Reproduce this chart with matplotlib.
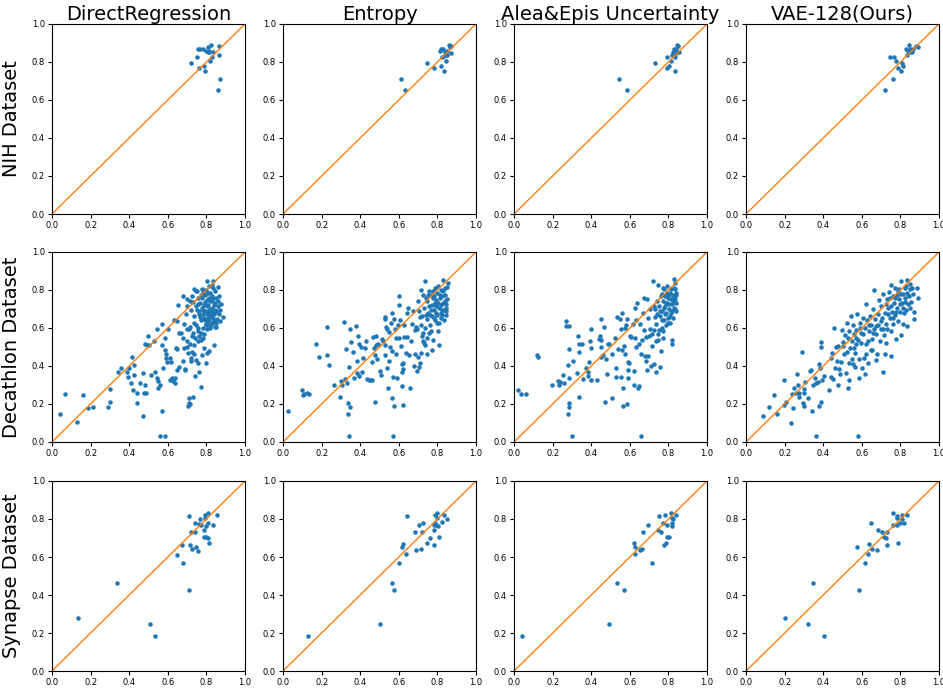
import numpy as np
import matplotlib
matplotlib.use("Agg")
import matplotlib.pyplot as plt

methods = ["DirectRegression", "Entropy", "Alea&Epis Uncertainty", "VAE-128(Ours)"]
datasets = ["NIH Dataset", "Decathlon Dataset", "Synapse Dataset"]
ticks = [0.0, 0.2, 0.4, 0.6, 0.8, 1.0]

# ---- NIH ----
nih_dr = [(0.719, 0.797), (0.749, 0.828), (0.754, 0.869), (0.766, 0.869), (0.782, 0.870),
          (0.764, 0.767), (0.789, 0.779), (0.795, 0.753), (0.799, 0.860), (0.809, 0.881),
          (0.811, 0.851), (0.815, 0.856), (0.825, 0.890), (0.834, 0.855), (0.828, 0.825),
          (0.818, 0.806), (0.863, 0.886), (0.865, 0.835), (0.868, 0.711), (0.860, 0.653),
          (0.806, 0.851)]
nih_ent = [(0.610, 0.711), (0.633, 0.653), (0.747, 0.797), (0.783, 0.767), (0.818, 0.779),
           (0.834, 0.753), (0.842, 0.807), (0.811, 0.860), (0.820, 0.869), (0.828, 0.870),
           (0.825, 0.825), (0.835, 0.834), (0.841, 0.855), (0.852, 0.860), (0.851, 0.835),
           (0.861, 0.890), (0.865, 0.881), (0.872, 0.886), (0.870, 0.849)]
nih_ae = [(0.545, 0.711), (0.583, 0.653), (0.728, 0.797), (0.791, 0.825), (0.792, 0.767),
          (0.804, 0.779), (0.813, 0.807), (0.817, 0.835), (0.822, 0.855), (0.827, 0.867),
          (0.832, 0.860), (0.834, 0.753), (0.836, 0.828), (0.839, 0.869), (0.844, 0.890),
          (0.849, 0.884), (0.841, 0.849), (0.853, 0.851)]
nih_vae = [(0.718, 0.653), (0.746, 0.825), (0.761, 0.711), (0.767, 0.828), (0.779, 0.807),
           (0.787, 0.767), (0.805, 0.753), (0.807, 0.797), (0.814, 0.779), (0.831, 0.869),
           (0.833, 0.835), (0.838, 0.860), (0.845, 0.890), (0.847, 0.855), (0.852, 0.870),
           (0.859, 0.851), (0.866, 0.869), (0.883, 0.886), (0.889, 0.881)]

# ---- Decathlon ----
dec_dr = [(0.040, 0.145), (0.069, 0.254), (0.130, 0.103), (0.161, 0.245), (0.187, 0.177),
          (0.213, 0.186), (0.289, 0.186), (0.300, 0.212), (0.302, 0.278), (0.343, 0.366),
          (0.357, 0.392), (0.388, 0.366), (0.393, 0.340), (0.397, 0.387), (0.409, 0.310),
          (0.416, 0.445), (0.421, 0.275), (0.423, 0.352), (0.425, 0.406), (0.440, 0.205),
          (0.440, 0.257), (0.454, 0.312), (0.471, 0.137), (0.473, 0.361), (0.477, 0.256),
          (0.484, 0.299), (0.487, 0.256), (0.482, 0.518), (0.490, 0.510), (0.496, 0.559),
          (0.503, 0.510), (0.515, 0.354), (0.529, 0.534), (0.536, 0.366), (0.546, 0.594),
          (0.546, 0.338), (0.549, 0.320), (0.551, 0.285), (0.558, 0.030), (0.562, 0.299),
          (0.568, 0.163), (0.570, 0.620), (0.572, 0.513), (0.574, 0.387), (0.584, 0.030),
          (0.584, 0.482), (0.588, 0.546), (0.589, 0.461), (0.593, 0.443), (0.598, 0.420),
          (0.603, 0.594), (0.612, 0.326), (0.612, 0.443), (0.617, 0.419), (0.622, 0.335),
          (0.629, 0.320), (0.633, 0.644), (0.638, 0.312), (0.640, 0.335), (0.641, 0.496),
          (0.648, 0.639), (0.646, 0.378), (0.650, 0.492), (0.653, 0.723), (0.660, 0.396),
          (0.660, 0.576), (0.667, 0.576), (0.679, 0.767), (0.681, 0.426), (0.681, 0.548),
          (0.685, 0.620), (0.688, 0.384), (0.690, 0.377), (0.695, 0.671), (0.697, 0.592),
          (0.702, 0.750), (0.698, 0.501), (0.705, 0.466), (0.707, 0.187), (0.709, 0.229),
          (0.712, 0.205), (0.714, 0.201), (0.714, 0.518), (0.716, 0.604), (0.718, 0.443),
          (0.723, 0.557), (0.728, 0.473), (0.731, 0.236), (0.735, 0.807), (0.737, 0.513),
          (0.738, 0.627), (0.740, 0.348), (0.744, 0.793), (0.747, 0.434), (0.750, 0.697),
          (0.754, 0.531), (0.756, 0.601), (0.759, 0.415), (0.761, 0.368), (0.764, 0.671),
          (0.768, 0.660), (0.770, 0.574), (0.771, 0.776), (0.773, 0.289), (0.776, 0.807),
          (0.778, 0.457), (0.782, 0.601), (0.785, 0.692), (0.787, 0.496), (0.789, 0.650),
          (0.790, 0.566), (0.792, 0.737), (0.797, 0.417), (0.799, 0.622), (0.801, 0.674),
          (0.801, 0.468), (0.802, 0.846), (0.806, 0.785), (0.809, 0.639), (0.811, 0.662),
          (0.815, 0.478), (0.820, 0.702), (0.823, 0.618), (0.827, 0.767), (0.830, 0.828),
          (0.834, 0.848), (0.837, 0.679), (0.841, 0.513), (0.844, 0.604), (0.847, 0.732),
          (0.853, 0.648), (0.858, 0.814), (0.861, 0.715), (0.875, 0.727), (0.886, 0.657),
          (0.733, 0.737), (0.745, 0.714), (0.754, 0.758), (0.757, 0.727), (0.763, 0.688),
          (0.768, 0.732), (0.771, 0.644), (0.775, 0.706), (0.778, 0.758), (0.782, 0.671),
          (0.783, 0.802), (0.789, 0.723), (0.792, 0.688), (0.794, 0.776), (0.795, 0.644),
          (0.797, 0.618), (0.801, 0.714), (0.802, 0.592), (0.804, 0.749), (0.806, 0.653),
          (0.808, 0.688), (0.809, 0.723), (0.811, 0.618), (0.813, 0.758), (0.815, 0.671),
          (0.816, 0.644), (0.818, 0.741), (0.820, 0.601), (0.821, 0.784), (0.823, 0.679),
          (0.825, 0.662), (0.827, 0.706), (0.828, 0.627), (0.830, 0.741), (0.832, 0.653),
          (0.834, 0.697), (0.835, 0.758), (0.837, 0.636), (0.841, 0.723), (0.842, 0.671),
          (0.844, 0.793), (0.846, 0.697), (0.849, 0.758), (0.851, 0.627), (0.854, 0.688),
          (0.858, 0.741), (0.863, 0.671), (0.867, 0.767), (0.868, 0.636), (0.872, 0.697),
          (0.849, 0.604), (0.832, 0.811), (0.815, 0.819), (0.797, 0.802), (0.780, 0.784),
          (0.750, 0.793), (0.728, 0.767), (0.714, 0.741), (0.702, 0.714), (0.719, 0.697),
          (0.737, 0.662), (0.745, 0.618), (0.754, 0.583), (0.763, 0.557), (0.771, 0.539),
          (0.780, 0.548), (0.731, 0.574), (0.740, 0.548), (0.712, 0.592), (0.702, 0.531),
          (0.685, 0.496), (0.719, 0.425), (0.737, 0.461)]
dec_ent = [(0.024, 0.165), (0.101, 0.275), (0.103, 0.245), (0.111, 0.254), (0.123, 0.256),
           (0.137, 0.254), (0.170, 0.515), (0.186, 0.445), (0.228, 0.607), (0.230, 0.459),
           (0.237, 0.406), (0.266, 0.301), (0.294, 0.238), (0.299, 0.320), (0.308, 0.299),
           (0.317, 0.634), (0.323, 0.334), (0.327, 0.487), (0.334, 0.310), (0.337, 0.145),
           (0.339, 0.205), (0.341, 0.030), (0.346, 0.186), (0.348, 0.593), (0.344, 0.394),
           (0.350, 0.525), (0.362, 0.473), (0.367, 0.336), (0.379, 0.613), (0.381, 0.425),
           (0.381, 0.362), (0.391, 0.557), (0.393, 0.518), (0.396, 0.347), (0.405, 0.502),
           (0.410, 0.366), (0.417, 0.443), (0.424, 0.495), (0.431, 0.534), (0.433, 0.333),
           (0.443, 0.326), (0.454, 0.326), (0.463, 0.326), (0.466, 0.551), (0.463, 0.420),
           (0.470, 0.494), (0.476, 0.208), (0.478, 0.457), (0.482, 0.560), (0.483, 0.508),
           (0.487, 0.438), (0.492, 0.515), (0.504, 0.375), (0.510, 0.355), (0.511, 0.544),
           (0.516, 0.532), (0.527, 0.656), (0.529, 0.649), (0.530, 0.457), (0.530, 0.513),
           (0.536, 0.604), (0.537, 0.592), (0.537, 0.390), (0.543, 0.282), (0.548, 0.425),
           (0.551, 0.579), (0.556, 0.499), (0.562, 0.625), (0.563, 0.679), (0.567, 0.229),
           (0.567, 0.478), (0.568, 0.341), (0.570, 0.030), (0.574, 0.646), (0.577, 0.187),
           (0.581, 0.593), (0.583, 0.548), (0.588, 0.464), (0.591, 0.338), (0.596, 0.618),
           (0.600, 0.548), (0.603, 0.768), (0.603, 0.723), (0.607, 0.644), (0.609, 0.506),
           (0.614, 0.410), (0.617, 0.296), (0.619, 0.368), (0.621, 0.196), (0.623, 0.418),
           (0.624, 0.383), (0.626, 0.618), (0.628, 0.551), (0.635, 0.469), (0.640, 0.553),
           (0.643, 0.679), (0.647, 0.705), (0.652, 0.460), (0.657, 0.285), (0.661, 0.530),
           (0.670, 0.621), (0.675, 0.688), (0.678, 0.399), (0.682, 0.464), (0.683, 0.588),
           (0.689, 0.607), (0.692, 0.595), (0.696, 0.373), (0.697, 0.446), (0.701, 0.740),
           (0.704, 0.394), (0.708, 0.658), (0.711, 0.415), (0.713, 0.469), (0.716, 0.802),
           (0.720, 0.557), (0.723, 0.530), (0.727, 0.574), (0.730, 0.522), (0.734, 0.513),
           (0.737, 0.845), (0.739, 0.670), (0.744, 0.646), (0.748, 0.464), (0.751, 0.775),
           (0.755, 0.714), (0.758, 0.574), (0.762, 0.618), (0.765, 0.697), (0.769, 0.583),
           (0.772, 0.485), (0.776, 0.758), (0.779, 0.536), (0.783, 0.653), (0.786, 0.810),
           (0.790, 0.732), (0.793, 0.679), (0.796, 0.627), (0.800, 0.784), (0.803, 0.583),
           (0.807, 0.705), (0.810, 0.513), (0.814, 0.758), (0.817, 0.653), (0.821, 0.802),
           (0.824, 0.697), (0.828, 0.852), (0.831, 0.732), (0.835, 0.644), (0.838, 0.810),
           (0.842, 0.688), (0.845, 0.705), (0.849, 0.814), (0.852, 0.755), (0.854, 0.838),
           (0.748, 0.740), (0.756, 0.793), (0.762, 0.670), (0.765, 0.775), (0.770, 0.723),
           (0.774, 0.661), (0.777, 0.793), (0.781, 0.697), (0.784, 0.767), (0.788, 0.644),
           (0.791, 0.714), (0.795, 0.749), (0.798, 0.670), (0.802, 0.819), (0.805, 0.732),
           (0.809, 0.627), (0.812, 0.775), (0.816, 0.679), (0.819, 0.723), (0.823, 0.767),
           (0.826, 0.670), (0.830, 0.793), (0.833, 0.697), (0.837, 0.740), (0.840, 0.775),
           (0.843, 0.670), (0.847, 0.725), (0.730, 0.705), (0.722, 0.661), (0.713, 0.618),
           (0.704, 0.688), (0.734, 0.600), (0.744, 0.548), (0.751, 0.679), (0.741, 0.758),
           (0.727, 0.775)]
dec_ae = [(0.022, 0.274), (0.038, 0.254), (0.061, 0.253), (0.121, 0.460), (0.123, 0.446),
          (0.197, 0.302), (0.228, 0.321), (0.232, 0.302), (0.239, 0.314), (0.253, 0.354),
          (0.261, 0.309), (0.268, 0.637), (0.268, 0.609), (0.280, 0.146), (0.280, 0.405),
          (0.284, 0.335), (0.287, 0.205), (0.287, 0.184), (0.287, 0.612), (0.287, 0.488),
          (0.301, 0.030), (0.308, 0.428), (0.327, 0.361), (0.330, 0.558), (0.334, 0.239),
          (0.336, 0.516), (0.337, 0.475), (0.351, 0.516), (0.356, 0.333), (0.375, 0.391),
          (0.381, 0.367), (0.382, 0.349), (0.389, 0.421), (0.394, 0.530), (0.400, 0.596),
          (0.400, 0.493), (0.401, 0.328), (0.429, 0.326), (0.439, 0.544), (0.443, 0.558),
          (0.450, 0.538), (0.452, 0.647), (0.452, 0.500), (0.453, 0.449), (0.460, 0.456),
          (0.467, 0.603), (0.472, 0.209), (0.478, 0.439), (0.484, 0.360), (0.486, 0.517),
          (0.491, 0.514), (0.507, 0.230), (0.510, 0.461), (0.522, 0.547), (0.526, 0.340),
          (0.528, 0.389), (0.533, 0.658), (0.538, 0.488), (0.550, 0.645), (0.552, 0.593),
          (0.555, 0.342), (0.557, 0.681), (0.561, 0.482), (0.564, 0.284), (0.567, 0.188),
          (0.571, 0.507), (0.573, 0.461), (0.576, 0.602), (0.578, 0.614), (0.583, 0.198),
          (0.585, 0.645), (0.588, 0.335), (0.590, 0.381), (0.593, 0.419), (0.597, 0.416),
          (0.602, 0.560), (0.607, 0.553), (0.616, 0.619), (0.619, 0.374), (0.621, 0.302),
          (0.625, 0.707), (0.628, 0.546), (0.630, 0.642), (0.633, 0.500), (0.637, 0.731),
          (0.640, 0.286), (0.645, 0.295), (0.649, 0.514), (0.654, 0.619), (0.657, 0.030),
          (0.659, 0.465), (0.663, 0.538), (0.668, 0.681), (0.671, 0.756), (0.675, 0.588),
          (0.678, 0.451), (0.682, 0.426), (0.685, 0.553), (0.687, 0.381), (0.689, 0.751),
          (0.692, 0.654), (0.696, 0.453), (0.699, 0.558), (0.702, 0.593), (0.706, 0.698),
          (0.709, 0.400), (0.713, 0.567), (0.716, 0.505), (0.720, 0.847), (0.723, 0.588),
          (0.727, 0.409), (0.730, 0.660), (0.734, 0.370), (0.737, 0.531), (0.741, 0.742),
          (0.744, 0.824), (0.747, 0.537), (0.751, 0.588), (0.754, 0.689), (0.758, 0.395),
          (0.761, 0.479), (0.765, 0.777), (0.768, 0.640), (0.772, 0.584), (0.775, 0.707),
          (0.779, 0.803), (0.782, 0.672), (0.785, 0.616), (0.789, 0.733), (0.792, 0.821),
          (0.796, 0.654), (0.799, 0.759), (0.803, 0.698), (0.806, 0.626), (0.810, 0.782),
          (0.813, 0.677), (0.817, 0.537), (0.817, 0.514), (0.820, 0.728), (0.824, 0.654),
          (0.827, 0.812), (0.829, 0.856), (0.830, 0.759), (0.834, 0.698), (0.836, 0.838),
          (0.837, 0.786), (0.839, 0.733), (0.749, 0.716), (0.758, 0.663), (0.761, 0.768),
          (0.766, 0.689), (0.770, 0.742), (0.773, 0.812), (0.777, 0.642), (0.780, 0.768),
          (0.784, 0.716), (0.787, 0.681), (0.791, 0.782), (0.794, 0.733), (0.798, 0.626),
          (0.801, 0.775), (0.805, 0.724), (0.808, 0.663), (0.811, 0.751), (0.815, 0.803),
          (0.818, 0.689), (0.822, 0.775), (0.825, 0.740), (0.829, 0.705), (0.832, 0.803),
          (0.836, 0.751), (0.839, 0.775), (0.839, 0.689), (0.741, 0.672), (0.732, 0.698),
          (0.737, 0.619), (0.744, 0.567), (0.723, 0.716), (0.772, 0.549), (0.766, 0.602)]
dec_vae = [(0.089, 0.137), (0.120, 0.184), (0.145, 0.246), (0.160, 0.146), (0.197, 0.324),
           (0.199, 0.193), (0.207, 0.212), (0.232, 0.102), (0.239, 0.254), (0.242, 0.177),
           (0.249, 0.286), (0.258, 0.256), (0.265, 0.360), (0.267, 0.300), (0.272, 0.258),
           (0.275, 0.239), (0.291, 0.474), (0.294, 0.205), (0.300, 0.258), (0.303, 0.279),
           (0.307, 0.314), (0.303, 0.188), (0.321, 0.230), (0.329, 0.374), (0.338, 0.381),
           (0.343, 0.165), (0.347, 0.302), (0.357, 0.335), (0.361, 0.030), (0.364, 0.312),
           (0.373, 0.314), (0.376, 0.409), (0.380, 0.188), (0.383, 0.391), (0.387, 0.502),
           (0.390, 0.528), (0.390, 0.209), (0.394, 0.324), (0.404, 0.347), (0.430, 0.272),
           (0.439, 0.444), (0.441, 0.342), (0.446, 0.470), (0.453, 0.333), (0.456, 0.602),
           (0.460, 0.391), (0.465, 0.500), (0.470, 0.426), (0.474, 0.300), (0.477, 0.507),
           (0.481, 0.382), (0.488, 0.356), (0.491, 0.421), (0.495, 0.591), (0.500, 0.503),
           (0.505, 0.526), (0.509, 0.461), (0.512, 0.563), (0.517, 0.365), (0.521, 0.628),
           (0.523, 0.475), (0.526, 0.549), (0.530, 0.286), (0.531, 0.328), (0.535, 0.584),
           (0.535, 0.417), (0.538, 0.496), (0.544, 0.663), (0.547, 0.435), (0.550, 0.531),
           (0.552, 0.409), (0.556, 0.614), (0.557, 0.496), (0.561, 0.567), (0.563, 0.396),
           (0.564, 0.470), (0.568, 0.517), (0.570, 0.591), (0.575, 0.672), (0.578, 0.030),
           (0.582, 0.538), (0.584, 0.435), (0.587, 0.339), (0.589, 0.598), (0.592, 0.628),
           (0.596, 0.521), (0.601, 0.391), (0.604, 0.567), (0.608, 0.651), (0.611, 0.444),
           (0.615, 0.600), (0.618, 0.356), (0.622, 0.724), (0.624, 0.461), (0.627, 0.640),
           (0.631, 0.531), (0.634, 0.417), (0.638, 0.584), (0.641, 0.663), (0.645, 0.482),
           (0.648, 0.617), (0.652, 0.540), (0.655, 0.482), (0.658, 0.698), (0.662, 0.800),
           (0.664, 0.593), (0.669, 0.645), (0.672, 0.430), (0.676, 0.567), (0.679, 0.461),
           (0.683, 0.672), (0.686, 0.617), (0.690, 0.745), (0.693, 0.531), (0.697, 0.593),
           (0.700, 0.716), (0.706, 0.654), (0.709, 0.370), (0.712, 0.777), (0.716, 0.563),
           (0.718, 0.465), (0.721, 0.681), (0.726, 0.619), (0.730, 0.751), (0.733, 0.593),
           (0.737, 0.707), (0.740, 0.791), (0.744, 0.654), (0.747, 0.759), (0.751, 0.453),
           (0.753, 0.824), (0.756, 0.684), (0.760, 0.768), (0.763, 0.619), (0.766, 0.730),
           (0.770, 0.812), (0.773, 0.668), (0.777, 0.540), (0.780, 0.775), (0.784, 0.707),
           (0.787, 0.637), (0.791, 0.751), (0.794, 0.803), (0.798, 0.684), (0.801, 0.563),
           (0.805, 0.847), (0.808, 0.730), (0.812, 0.623), (0.815, 0.777), (0.819, 0.679),
           (0.822, 0.812), (0.826, 0.738), (0.829, 0.695), (0.833, 0.786), (0.836, 0.854),
           (0.836, 0.610), (0.840, 0.724), (0.843, 0.768), (0.847, 0.829), (0.850, 0.803),
           (0.857, 0.738), (0.862, 0.812), (0.866, 0.777), (0.868, 0.649), (0.871, 0.686),
           (0.888, 0.812), (0.892, 0.756), (0.726, 0.724), (0.735, 0.672), (0.753, 0.716),
           (0.761, 0.654), (0.770, 0.759), (0.778, 0.684), (0.787, 0.795), (0.796, 0.724),
           (0.805, 0.777), (0.813, 0.707), (0.822, 0.759), (0.831, 0.820), (0.840, 0.775),
           (0.848, 0.707), (0.700, 0.637), (0.709, 0.593), (0.674, 0.610), (0.657, 0.575),
           (0.639, 0.617), (0.622, 0.514), (0.596, 0.575), (0.570, 0.549), (0.753, 0.584),
           (0.726, 0.522)]

# ---- Synapse ----
syn_dr = [(0.133, 0.277), (0.336, 0.464), (0.510, 0.245), (0.532, 0.184), (0.650, 0.609),
          (0.681, 0.571), (0.676, 0.665), (0.709, 0.816), (0.712, 0.427), (0.716, 0.665),
          (0.718, 0.734), (0.728, 0.643), (0.740, 0.781), (0.740, 0.730), (0.747, 0.651),
          (0.759, 0.632), (0.763, 0.774), (0.768, 0.802), (0.771, 0.767), (0.787, 0.704),
          (0.790, 0.741), (0.792, 0.820), (0.794, 0.806), (0.797, 0.765), (0.799, 0.706),
          (0.806, 0.702), (0.809, 0.830), (0.809, 0.778), (0.815, 0.672), (0.832, 0.769),
          (0.856, 0.820)]
syn_ent = [(0.129, 0.184), (0.503, 0.245), (0.567, 0.464), (0.577, 0.427), (0.603, 0.571),
           (0.619, 0.651), (0.624, 0.671), (0.637, 0.615), (0.642, 0.816), (0.684, 0.734),
           (0.690, 0.637), (0.706, 0.767), (0.715, 0.643), (0.722, 0.734), (0.723, 0.778),
           (0.748, 0.672), (0.762, 0.702), (0.781, 0.743), (0.783, 0.767), (0.784, 0.665),
           (0.786, 0.779), (0.788, 0.820), (0.791, 0.767), (0.797, 0.806), (0.800, 0.830),
           (0.802, 0.765), (0.807, 0.706), (0.826, 0.783), (0.835, 0.820), (0.849, 0.802)]
syn_ae = [(0.043, 0.184), (0.490, 0.245), (0.534, 0.464), (0.570, 0.427), (0.620, 0.672),
          (0.627, 0.651), (0.629, 0.615), (0.652, 0.637), (0.665, 0.643), (0.667, 0.734),
          (0.696, 0.767), (0.713, 0.571), (0.744, 0.743), (0.751, 0.816), (0.763, 0.734),
          (0.774, 0.781), (0.779, 0.665), (0.781, 0.820), (0.788, 0.672), (0.793, 0.767),
          (0.795, 0.706), (0.805, 0.704), (0.813, 0.830), (0.819, 0.806), (0.820, 0.780),
          (0.822, 0.802), (0.820, 0.765), (0.839, 0.820)]
syn_vae = [(0.204, 0.277), (0.321, 0.245), (0.348, 0.464), (0.402, 0.184), (0.577, 0.651),
           (0.584, 0.427), (0.615, 0.571), (0.634, 0.615), (0.639, 0.671), (0.648, 0.778),
           (0.655, 0.643), (0.679, 0.637), (0.683, 0.743), (0.707, 0.734), (0.713, 0.706),
           (0.723, 0.702), (0.730, 0.734), (0.732, 0.665), (0.761, 0.830), (0.761, 0.767),
           (0.780, 0.816), (0.782, 0.806), (0.780, 0.767), (0.787, 0.672), (0.798, 0.781),
           (0.807, 0.802), (0.810, 0.820), (0.817, 0.777), (0.833, 0.820)]

grid = [[nih_dr, nih_ent, nih_ae, nih_vae],
        [dec_dr, dec_ent, dec_ae, dec_vae],
        [syn_dr, syn_ent, syn_ae, syn_vae]]

fig = plt.figure(figsize=(9.43, 6.89), dpi=100)

lefts = [0.0551, 0.3001, 0.5451, 0.7911]
bottoms = [0.6894, 0.3585, 0.0261]
w, h = 0.2047, 0.2758

for r in range(3):
    for c in range(4):
        ax = fig.add_axes([lefts[c], bottoms[r], w, h])
        pts = np.array(grid[r][c])
        ax.scatter(pts[:, 0], pts[:, 1], s=5, color="tab:blue")
        ax.plot([0, 1], [0, 1], color="tab:orange", linewidth=1)
        ax.set_xlim(0, 1)
        ax.set_ylim(0, 1)
        ax.set_xticks(ticks)
        ax.set_yticks(ticks)
        ax.tick_params(labelsize=6, length=3, width=0.8, pad=2)
        if r == 0:
            ax.set_title(methods[c], fontsize=14, pad=3)
        if c == 0:
            ax.set_ylabel(datasets[r], fontsize=14, labelpad=8)

plt.savefig("out.png", dpi=100)
